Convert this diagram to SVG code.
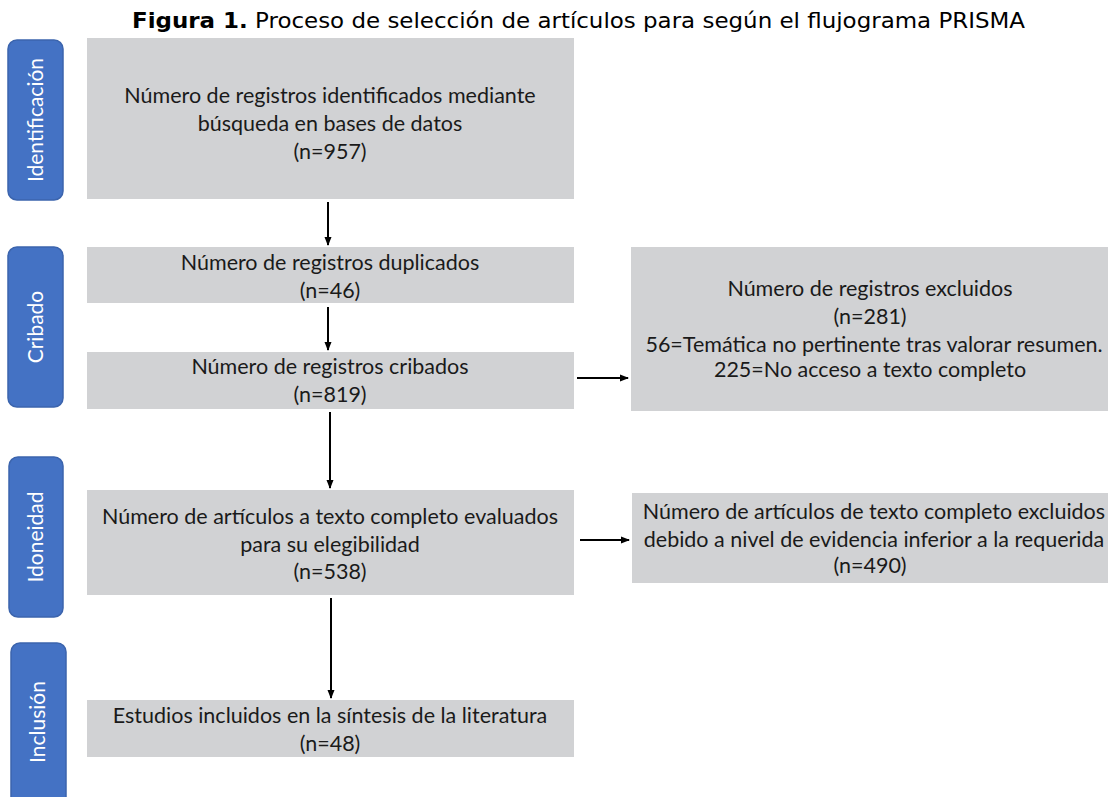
<svg xmlns="http://www.w3.org/2000/svg" width="1108" height="797" viewBox="0 0 1108 797">
<defs>
<marker id="ah" markerWidth="9" markerHeight="8" refX="8" refY="4" orient="auto" markerUnits="userSpaceOnUse">
<path d="M0,0.5 L9,4 L0,7.5 Z" fill="#000"/>
</marker>
<style>
.box{fill:#d1d2d4;}
.pill{fill:#4472c4;stroke:#3b64ad;stroke-width:1.5;}
.t{font-family:Lato,"Liberation Sans",sans-serif;font-size:21.5px;fill:#1a1a1a;text-anchor:middle;}
.pt{font-family:Lato,"Liberation Sans",sans-serif;font-size:21px;fill:#ffffff;text-anchor:middle;}
.title{font-family:"DejaVu Sans",sans-serif;font-size:22px;fill:#000;}
.c{stroke:#000;stroke-width:2;fill:none;marker-end:url(#ah);}
</style>
</defs>
<rect width="1108" height="797" fill="#fff"/>
<text class="title" x="132" y="28" textLength="893" lengthAdjust="spacingAndGlyphs"><tspan font-weight="bold">Figura 1.</tspan> Proceso de selección de artículos para según el flujograma PRISMA</text>

<g id="phase-identificacion">
<rect class="pill" x="8" y="40" width="55" height="160" rx="9"/>
<text class="pt" transform="translate(43,120) rotate(-90)">Identificación</text>
</g>
<g id="phase-cribado">
<rect class="pill" x="8" y="247" width="55" height="160" rx="9"/>
<text class="pt" transform="translate(43,327) rotate(-90)">Cribado</text>
</g>
<g id="phase-idoneidad">
<rect class="pill" x="9" y="457" width="54" height="160" rx="9"/>
<text class="pt" transform="translate(43,537) rotate(-90)">Idoneidad</text>
</g>
<g id="phase-inclusion">
<rect class="pill" x="11" y="643" width="55" height="170" rx="9"/>
<text class="pt" transform="translate(45,722) rotate(-90)">Inclusión</text>
</g>

<g id="n-identificados">
<rect class="box" x="87" y="38" width="487" height="161"/>
<text class="t" x="330" y="103">Número de registros identificados mediante</text>
<text class="t" x="330" y="131">búsqueda en bases de datos</text>
<text class="t" x="330" y="159">(n=957)</text>
</g>
<g id="n-duplicados">
<rect class="box" x="87" y="247" width="487" height="56"/>
<text class="t" x="330" y="270">Número de registros duplicados</text>
<text class="t" x="330" y="298">(n=46)</text>
</g>
<g id="n-cribados">
<rect class="box" x="87" y="352" width="487" height="57"/>
<text class="t" x="330" y="374">Número de registros cribados</text>
<text class="t" x="330" y="402">(n=819)</text>
</g>
<g id="n-evaluados">
<rect class="box" x="87" y="490" width="487" height="105"/>
<text class="t" x="330" y="524">Número de artículos a texto completo evaluados</text>
<text class="t" x="330" y="552">para su elegibilidad</text>
<text class="t" x="330" y="579">(n=538)</text>
</g>
<g id="n-incluidos">
<rect class="box" x="87" y="700" width="487" height="57"/>
<text class="t" x="330" y="723">Estudios incluidos en la síntesis de la literatura</text>
<text class="t" x="330" y="751">(n=48)</text>
</g>
<g id="n-excluidos">
<rect class="box" x="631" y="247" width="477" height="164"/>
<text class="t" x="870" y="296">Número de registros excluidos</text>
<text class="t" x="870" y="324">(n=281)</text>
<text class="t" x="874" y="352">56=Temática no pertinente tras valorar resumen.</text>
<text class="t" x="870" y="377">225=No acceso a texto completo</text>
</g>
<g id="n-excluidos-texto">
<rect class="box" x="632" y="493" width="476" height="90"/>
<text class="t" x="874" y="519">Número de artículos de texto completo excluidos</text>
<text class="t" x="874" y="547">debido a nivel de evidencia inferior a la requerida</text>
<text class="t" x="870" y="573">(n=490)</text>
</g>

<g id="connectors">
<path class="c" d="M328,202 L328,245"/>
<path class="c" d="M328,307 L328,350"/>
<path class="c" d="M330,412 L330,488"/>
<path class="c" d="M331,598 L331,698"/>
<path class="c" d="M577,378 L628,378"/>
<path class="c" d="M580,540 L629,540"/>
</g>
</svg>
